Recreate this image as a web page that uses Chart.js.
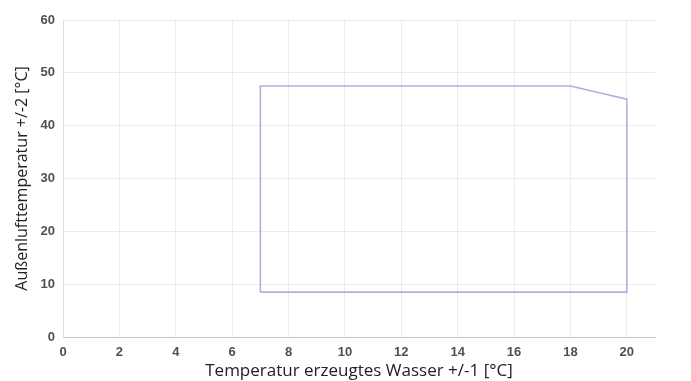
<!DOCTYPE html>
<html><head><meta charset="utf-8">
<script src="https://cdn.jsdelivr.net/npm/chart.js@4"></script>
<style>html,body{margin:0;padding:0;background:#fff}#w{width:691px;height:381px}</style>
</head><body><div id="w"><canvas id="c"></canvas></div>
<script>
const waterTemp = [7, 7, 18, 20, 20, 7];
const airTemp = [8.5, 47.5, 47.5, 45, 8.5, 8.5];
const xTicks = [0, 2, 4, 6, 8, 10, 12, 14, 16, 18, 20];
const yTicks = [0, 10, 20, 30, 40, 50, 60];
const xTitle = 'Temperatur erzeugtes Wasser +/-1 [°C]';
const yTitle = 'Außenlufttemperatur +/-2 [°C]';

const pts = waterTemp.map((x, i) => ({x, y: airTemp[i]}));
new Chart(document.getElementById('c'), {
  type: 'scatter',
  data: {datasets: [{data: pts, showLine: true, borderColor: '#aab2e2', borderWidth: 1.6, pointRadius: 0, fill: false, tension: 0}]},
  options: {
    responsive: true, maintainAspectRatio: false, animation: false,
    layout: {padding: {top: 20, right: 36, left: 0, bottom: 0}},
    plugins: {legend: {display: false}, tooltip: {enabled: false}},
    scales: {
      x: {type: 'linear', min: 0, max: 21,
        afterBuildTicks: a => { a.ticks = xTicks.map(v => ({value: v})); },
        afterFit: a => { a.height = 44; },
        ticks: {font: {family: 'Liberation Sans', size: 13, weight: 'bold'}, color: '#505050', padding: 8, maxRotation: 0},
        grid: {color: '#ebebeb', drawTicks: false},
        border: {color: '#c4c4c4'},
        title: {display: true, text: xTitle, font: {family: 'Open Sans', size: 17}, color: '#222', padding: {top: 0, bottom: 0}}
      },
      y: {type: 'linear', min: 0, max: 60,
        afterBuildTicks: a => { a.ticks = yTicks.map(v => ({value: v})); },
        afterFit: a => { a.width = 63; },
        ticks: {font: {family: 'Liberation Sans', size: 13, weight: 'bold'}, color: '#505050', padding: 8},
        grid: {color: '#ebebeb', drawTicks: false},
        border: {color: '#e0e0e0'},
        title: {display: true, text: yTitle, font: {family: 'Open Sans', size: 16}, color: '#222', padding: {top: 13, bottom: 0}}
      }
    }
  }
});
</script></body></html>
